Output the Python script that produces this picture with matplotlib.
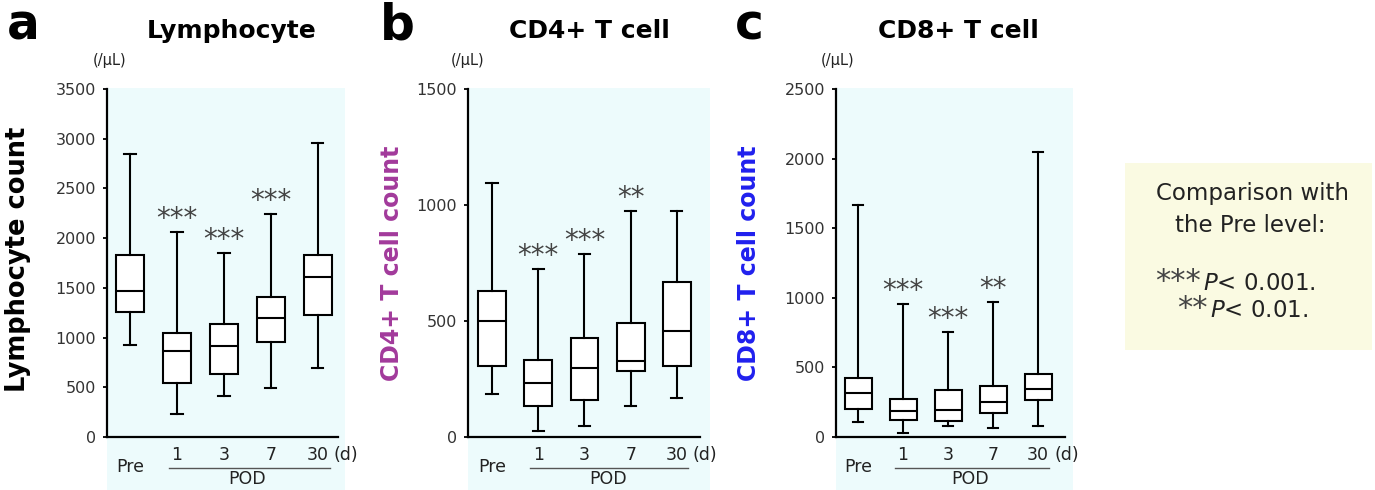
"""Box plots of lymphocyte, CD4+ and CD8+ T cell counts before and after surgery."""

import matplotlib.pyplot as plt
import numpy as np
from matplotlib.patches import Rectangle

# x categories: pre-operative and post-operative days
categories = ["Pre", "1", "3", "7", "30"]

# a: lymphocyte count (/uL)
lym_whislo = [925, 228, 412, 496, 690]
lym_q1 = [1260, 546, 630, 959, 1227]
lym_med = [1468, 868, 915, 1193, 1612]
lym_q3 = [1830, 1043, 1136, 1404, 1830]
lym_whishi = [2843, 2065, 1854, 2239, 2960]
lym_stars = ["", "***", "***", "***", ""]

# b: CD4+ T cell count (/uL)
cd4_whislo = [184, 26, 47, 134, 167]
cd4_q1 = [306, 135, 159, 286, 307]
cd4_med = [501, 234, 299, 328, 457]
cd4_q3 = [631, 332, 425, 490, 670]
cd4_whishi = [1093, 726, 789, 974, 976]
cd4_stars = ["", "***", "***", "**", ""]

# c: CD8+ T cell count (/uL)
cd8_whislo = [110, 26, 81, 62, 81]
cd8_q1 = [199, 122, 117, 175, 266]
cd8_med = [314, 187, 194, 254, 342]
cd8_q3 = [426, 271, 338, 366, 450]
cd8_whishi = [1667, 955, 757, 972, 2045]
cd8_stars = ["", "***", "***", "**", ""]

W, H = 1375, 490
AX_TOP, AX_BOTTOM = 89, 437
BG_CYAN = "#edfbfc"
BG_YELLOW = "#fafae2"


def fx(px):
    return px / W


def fy(py):
    return 1 - py / H


panels = [
    dict(letter="a", title="Lymphocyte", ylabel="Lymphocyte count", ylabel_color="black",
         ylabel_size=18.5, ylabel_x=18, ylabel_y=259, left=107, right=338, bg_right=345,
         xlim=(-0.49, 4.43), ymax=3500, letter_x=7, title_x=232, unit_x=110,
         data=(lym_whislo, lym_q1, lym_med, lym_q3, lym_whishi, lym_stars)),
    dict(letter="b", title="CD4+ T cell", ylabel="CD4+ T cell count", ylabel_color="#a23a9b",
         ylabel_size=17, ylabel_x=392, ylabel_y=263, left=468, right=700, bg_right=710,
         xlim=(-0.52, 4.5), ymax=1500, letter_x=380, title_x=589, unit_x=468,
         data=(cd4_whislo, cd4_q1, cd4_med, cd4_q3, cd4_whishi, cd4_stars)),
    dict(letter="c", title="CD8+ T cell", ylabel="CD8+ T cell count", ylabel_color="#2020ee",
         ylabel_size=17, ylabel_x=749, ylabel_y=263, left=836, right=1065, bg_right=1073,
         xlim=(-0.49, 4.6), ymax=2500, letter_x=735, title_x=958, unit_x=838,
         data=(cd8_whislo, cd8_q1, cd8_med, cd8_q3, cd8_whishi, cd8_stars)),
]

fig = plt.figure(figsize=(W / 100, H / 100), dpi=100)
positions = np.arange(len(categories))

for p in panels:
    # light cyan panel background, running down under the tick labels
    fig.patches.append(Rectangle((fx(p["left"]), 0), fx(p["bg_right"]) - fx(p["left"]), fy(AX_TOP - 1),
                                 transform=fig.transFigure, facecolor=BG_CYAN, edgecolor="none", zorder=-1))

    ax = fig.add_axes([fx(p["left"]), fy(AX_BOTTOM), fx(p["right"]) - fx(p["left"]),
                       fy(AX_TOP) - fy(AX_BOTTOM)])
    ax.set_facecolor("none")

    whislo, q1, med, q3, whishi, stars = p["data"]
    stats = [dict(whislo=a, q1=b, med=c, q3=d, whishi=e, label=lab)
             for a, b, c, d, e, lab in zip(whislo, q1, med, q3, whishi, categories)]
    ax.bxp(stats, positions=positions, widths=0.6, capwidths=0.24, showfliers=False,
           patch_artist=True, manage_ticks=False,
           boxprops=dict(facecolor="white", edgecolor="black", linewidth=1.5),
           medianprops=dict(color="black", linewidth=1.5),
           whiskerprops=dict(color="black", linewidth=1.5),
           capprops=dict(color="black", linewidth=1.5))

    for x, top, s in zip(positions, whishi, stars):
        if s:
            ax.annotate(s, xy=(x, top), xytext=(0, 5), textcoords="offset pixels",
                        ha="center", va="baseline", fontsize=20, color="#444444")

    ax.set_xlim(*p["xlim"])
    ax.set_ylim(0, p["ymax"])
    ax.set_yticks(np.arange(0, p["ymax"] + 1, 500))
    for side in ("top", "right"):
        ax.spines[side].set_visible(False)
    for side in ("left", "bottom"):
        ax.spines[side].set_linewidth(1.6)
    ax.tick_params(axis="x", bottom=False, labelbottom=False)
    ax.tick_params(axis="y", direction="out", length=3, width=1.3, pad=5,
                   labelsize=11.5, labelcolor="#333333")

    # category labels under the axis
    tr = ax.get_xaxis_transform()
    ax.text(positions[0], -0.086, categories[0], transform=tr, ha="center", va="center",
            fontsize=12.5, color="#222222")
    for x, lab in zip(positions[1:], categories[1:]):
        ax.text(x, -0.052, lab, transform=tr, ha="center", va="center",
                fontsize=12.5, color="#222222")
    ax.annotate("(d)", xy=(positions[-1], -0.052), xycoords=tr, xytext=(16, 0),
                textcoords="offset pixels", ha="left", va="center", fontsize=12.5,
                color="#222222", annotation_clip=False)
    ax.plot([positions[1] - 0.17, positions[-1] + 0.25], [-0.088, -0.088], transform=tr,
            color="#555555", linewidth=1.0, clip_on=False)
    ax.text(positions[1:].mean(), -0.122, "POD", transform=tr, ha="center", va="center",
            fontsize=12.5, color="#222222")

    fig.text(fx(p["letter_x"]), fy(40), p["letter"], fontsize=35, fontweight="bold",
             ha="left", va="baseline")
    fig.text(fx(p["title_x"]), fy(38), p["title"], fontsize=18, fontweight="bold",
             ha="center", va="baseline")
    fig.text(fx(p["unit_x"]), fy(60), "(/μL)", fontsize=10.5, ha="center", va="center",
             color="#222222")
    fig.text(fx(p["ylabel_x"]), fy(p["ylabel_y"]), p["ylabel"], rotation=90,
             fontsize=p["ylabel_size"], fontweight="bold", color=p["ylabel_color"],
             ha="center", va="center")

# significance key
fig.patches.append(Rectangle((fx(1125), fy(350)), fx(1372) - fx(1125), fy(163) - fy(350),
                             transform=fig.transFigure, facecolor=BG_YELLOW, edgecolor="none",
                             zorder=-1))
fig.text(fx(1252), fy(200), "Comparison with", fontsize=16.5, ha="center", va="baseline",
         color="#222222")
fig.text(fx(1250), fy(232), "the Pre level:", fontsize=16.5, ha="center", va="baseline",
         color="#222222")
fig.text(fx(1201), fy(290), "***", fontsize=22, ha="right", va="baseline", color="#444444")
fig.text(fx(1203), fy(290), "$P$< 0.001.", fontsize=16.5, ha="left", va="baseline",
         color="#222222")
fig.text(fx(1208), fy(317), "**", fontsize=22, ha="right", va="baseline", color="#444444")
fig.text(fx(1210), fy(317), "$P$< 0.01.", fontsize=16.5, ha="left", va="baseline",
         color="#222222")

fig.savefig("out.png", dpi=100)
